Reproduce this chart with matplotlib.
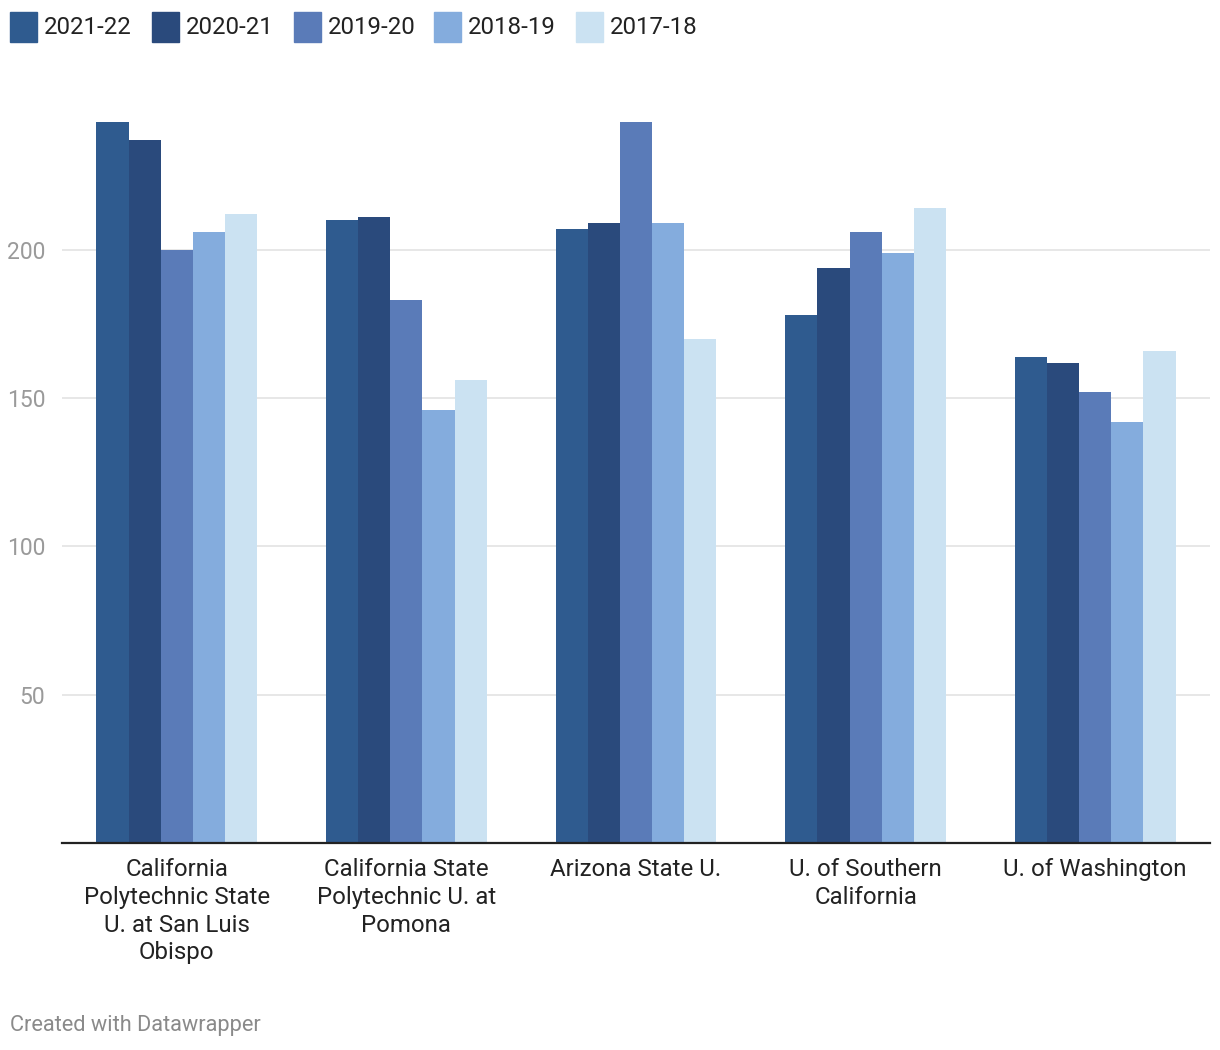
import numpy as np
import matplotlib.pyplot as plt
from matplotlib.patches import Rectangle

plt.rcParams['font.family'] = ['Roboto', 'DejaVu Sans']

schools = ['California\nPolytechnic State\nU. at San Luis\nObispo',
           'California State\nPolytechnic U. at\nPomona',
           'Arizona State U.',
           'U. of Southern\nCalifornia',
           'U. of Washington']
years = ['2021-22', '2020-21', '2019-20', '2018-19', '2017-18']
v_2021_22 = [243, 210, 207, 178, 164]
v_2020_21 = [237, 211, 209, 194, 162]
v_2019_20 = [200, 183, 243, 206, 152]
v_2018_19 = [206, 146, 209, 199, 142]
v_2017_18 = [212, 156, 170, 214, 166]
series = [v_2021_22, v_2020_21, v_2019_20, v_2018_19, v_2017_18]
colors = ['#2f5b8f', '#2a4a7c', '#5a7bb8', '#84acdd', '#cbe2f2']

fig = plt.figure(figsize=(12.2, 10.5), dpi=100)
ax = fig.add_axes([62/1220, 207/1050, 1148/1220, 741.5/1050])

x = np.arange(len(schools))
w = 0.14
for i, vals in enumerate(series):
    ax.bar(x + (i - 2) * w, vals, width=w, color=colors[i], zorder=3, linewidth=0)

ax.set_xlim(-0.5, 4.5)
ax.set_ylim(0, 250)
ax.set_yticks([50, 100, 150, 200])
ax.yaxis.grid(True, color='#e3e3e3', linewidth=1.2, zorder=0)
ax.tick_params(axis='y', length=0, labelsize=16.5, labelcolor='#9a9a9a', pad=12)
ax.set_xticks(x)
ax.set_xticklabels(schools, fontsize=17.3, color='#222222', linespacing=1.26)
ax.tick_params(axis='x', length=0, pad=11)
for s in ['top', 'right', 'left']:
    ax.spines[s].set_visible(False)
ax.spines['bottom'].set_color('#222222')
ax.spines['bottom'].set_linewidth(1.6)
ax.spines['bottom'].set_zorder(4)

# legend row along the top
lx = [10, 152, 294, 434, 576]
for i, yr in enumerate(years):
    fig.patches.append(Rectangle((lx[i]/1220, 1 - 42/1050), 27/1220, 30/1050,
                                 transform=fig.transFigure, color=colors[i]))
    fig.text((lx[i] + 34)/1220, 1 - 27/1050, yr, fontsize=17.3, color='#222222', va='center')

fig.text(10/1220, 1 - 1025/1050, 'Created with Datawrapper', fontsize=15.7,
         color='#8a8a8a', va='center')

fig.savefig('out.png', dpi=100, facecolor='white')
